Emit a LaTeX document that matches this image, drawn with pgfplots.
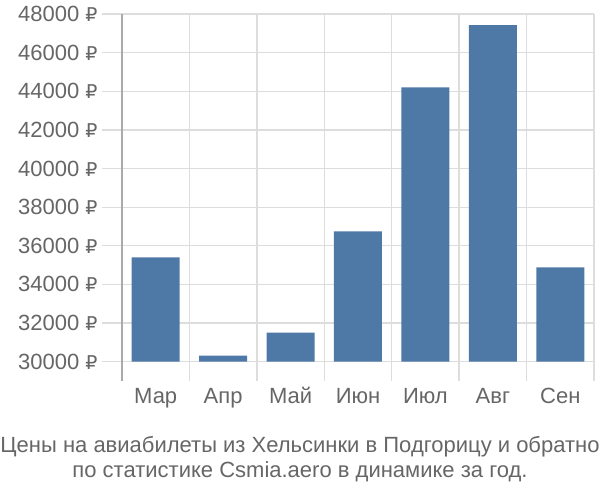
\documentclass[border=0pt]{standalone}
\usepackage{pgfplots}
\pgfplotsset{compat=1.18}
\usepackage{fontspec}
\setmainfont{Liberation Sans}
\newfontfamily\rubfont{DejaVu Sans}
\newcommand{\rub}{{\rubfont\fontsize{19}{22}\selectfont ₽}}
\definecolor{barblue}{RGB}{78,121,167}
\definecolor{txt}{RGB}{102,102,102}
\definecolor{gridc}{RGB}{221,221,221}
\definecolor{axc}{RGB}{170,170,170}
\begin{document}
\begin{tikzpicture}
\path[use as bounding box] (-122pt,-119pt) rectangle (478pt,381pt);
\begin{axis}[
  at={(0pt,0pt)}, anchor=south west,
  scale only axis, width=472pt, height=367pt,
  xmin=0.5, xmax=7.5,
  ymin=29000, ymax=48000,
  y coord trafo/.code={\begingroup\pgfkeys{/pgf/fpu=true,/pgf/fpu/output format=fixed}\pgfmathparse{#1-30000}\xdef\mytrafotmp{\pgfmathresult}\endgroup\let\pgfmathresult\mytrafotmp},
  y coord inv trafo/.code={\begingroup\pgfkeys{/pgf/fpu=true,/pgf/fpu/output format=fixed}\pgfmathparse{#1+30000}\xdef\mytrafotmp{\pgfmathresult}\endgroup\let\pgfmathresult\mytrafotmp},
  scaled y ticks=false,
  axis line style={draw=none},
  xtick={1.5,2.5,3.5,4.5,5.5,6.5,7.5},
  xticklabels={},
  xtick style={draw=none},
  xmajorgrids,
  extra x ticks={1,2,3,4,5,6,7},
  extra x tick labels={Мар,Апр,Май,Июн,Июл,Авг,Сен},
  extra x tick style={grid=none, tick style={draw=none}},
  ytick={30000,32000,34000,36000,38000,40000,42000,44000,46000,48000},
  yticklabels={30000 \rub,32000 \rub,34000 \rub,36000 \rub,38000 \rub,40000 \rub,42000 \rub,44000 \rub,46000 \rub,48000 \rub},
  ytick pos=left,
  tick align=outside,
  major tick length=20pt,
  ytick style={color=gridc, line width=1.3pt},
  ymajorgrids,
  major grid style={color=gridc, line width=1.3pt},
  tick label style={font=\fontsize{22}{25}\selectfont, text=txt},
  yticklabel style={xshift=-1pt},
  xticklabel style={anchor=base, yshift=-2pt},
  clip=false,
]
\addplot[ybar, bar width=48pt, fill=barblue, draw=none] coordinates {
(1,35400) (2,30310) (3,31500) (4,36740) (5,44200) (6,47420) (7,34880)
};
\draw[axc, line width=1.3pt] (rel axis cs:0,0) -- (rel axis cs:0,1);
\end{axis}
\node[align=center, text=txt, font=\fontsize{22}{25}\selectfont] at (178pt,-78.5pt) {Цены на авиабилеты из Хельсинки в Подгорицу и обратно\\по статистике Csmia.aero в динамике за год.};
\end{tikzpicture}
\end{document}
